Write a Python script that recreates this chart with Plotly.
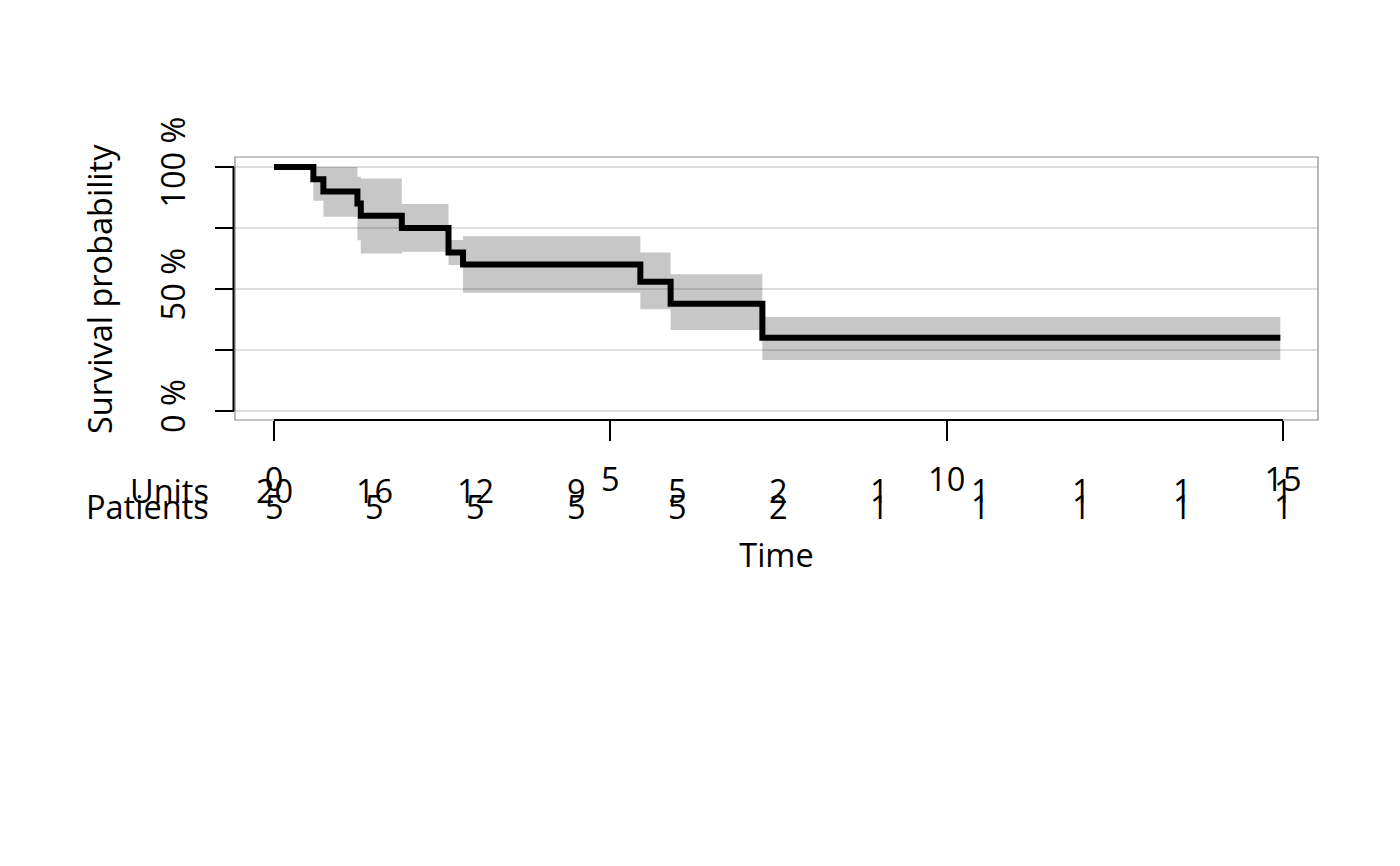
import plotly.graph_objects as go

# ---- data ----
step_time = [0, 0.585, 0.734, 1.24, 1.29, 1.90, 2.594, 2.81, 5.446, 5.896, 7.26, 14.96]
surv_pct = [100, 95, 90, 85, 80, 75, 65, 60, 53, 44, 30, 30]
ci_lower = [100, 86.2, 79.6, 70, 64.6, 65.3, 59.8, 48.5, 41.7, 33.2, 20.9, 20.9]
ci_upper = [100, 100, 100, 96, 95.3, 84.8, 70.1, 71.6, 65, 56, 38.5, 38.5]

risk_times = [0, 1.5, 3, 4.5, 6, 7.5, 9, 10.5, 12, 13.5, 15]
units_at_risk = [20, 16, 12, 9, 5, 2, 1, 1, 1, 1, 1]
patients_at_risk = [5, 5, 5, 5, 5, 2, 1, 1, 1, 1, 1]

x_ticks = [0, 5, 10, 15]
y_ticks = [0, 25, 50, 75, 100]
y_ticktext = ["0 %", "", "50 %", "", "100 %"]

FONT = "Open Sans"
FS = 32.5

fig = go.Figure()

fig.add_trace(go.Scatter(
    x=step_time, y=ci_lower, mode="lines", line=dict(width=0, shape="hv"),
    showlegend=False, hoverinfo="skip"))
fig.add_trace(go.Scatter(
    x=step_time, y=ci_upper, mode="lines", line=dict(width=0, shape="hv"),
    fill="tonexty", fillcolor="rgba(0,0,0,0.22)", showlegend=False, hoverinfo="skip"))
fig.add_trace(go.Scatter(
    x=step_time, y=surv_pct, mode="lines", line=dict(color="black", width=6, shape="hv"),
    showlegend=False))

# plot area in screen px (page body has an 8px offset)
L, R, T, B = 235, 1318, 157, 420
OFF = 8
W, H = R - L, B - T

def py(p):
    return (B - p) / H

def px(p):
    return (p - L) / W

# risk table
for t, u in zip(risk_times, units_at_risk):
    fig.add_annotation(x=t, y=py(490), xref="x", yref="paper", text=str(u), showarrow=False,
                       xanchor="center", yanchor="middle", font=dict(family=FONT, size=FS, color="black"))
for t, p in zip(risk_times, patients_at_risk):
    fig.add_annotation(x=t, y=py(506), xref="x", yref="paper", text=str(p), showarrow=False,
                       xanchor="center", yanchor="middle", font=dict(family=FONT, size=FS, color="black"))
fig.add_annotation(x=px(211), y=py(490), xref="paper", yref="paper", text="Units", showarrow=False,
                   xanchor="right", yanchor="middle", font=dict(family=FONT, size=FS, color="black"))
fig.add_annotation(x=px(211), y=py(506), xref="paper", yref="paper", text="Patients", showarrow=False,
                   xanchor="right", yanchor="middle", font=dict(family=FONT, size=FS, color="black"))

# y-axis title
fig.add_annotation(x=px(99), y=py(289), xref="paper", yref="paper", text="Survival probability",
                   textangle=-90, showarrow=False, xanchor="center", yanchor="middle",
                   font=dict(family=FONT, size=FS, color="black"))

# frame and R-style axis lines
fig.add_shape(type="rect", xref="paper", yref="paper", x0=0, x1=1, y0=0, y1=1,
              line=dict(color="#8a8a8a", width=1.2), layer="above")
fig.add_shape(type="line", xref="x", yref="paper", x0=x_ticks[0], x1=x_ticks[-1], y0=0, y1=0,
              line=dict(color="black", width=2), layer="above")
fig.add_shape(type="line", xref="paper", yref="y", x0=px(233.5), x1=px(233.5), y0=y_ticks[0], y1=y_ticks[-1],
              line=dict(color="black", width=2), layer="above")

fig.update_layout(
    width=1400, height=866,
    margin=dict(l=L - OFF, r=1400 - (R - OFF), t=T - OFF, b=866 - (B - OFF)),
    paper_bgcolor="white", plot_bgcolor="white",
    font=dict(family=FONT, size=FS, color="black"),
    xaxis=dict(range=[-0.58, 15.52], tickvals=x_ticks, ticks="outside", ticklen=20, tickwidth=2,
               tickcolor="black", showgrid=False, zeroline=False, showline=False,
               ticklabelstandoff=11,
               title=dict(text="Time", standoff=44, font=dict(family=FONT, size=FS))),
    yaxis=dict(range=[-3.69, 104.1], tickvals=y_ticks, ticktext=y_ticktext, tickangle=-90,
               ticks="outside", ticklen=19, tickwidth=2, tickcolor="black",
               showgrid=True, gridcolor="#dedede", gridwidth=1.5, zeroline=False, showline=False,
               ticklabelstandoff=17),
)

fig.write_html("out.html")
